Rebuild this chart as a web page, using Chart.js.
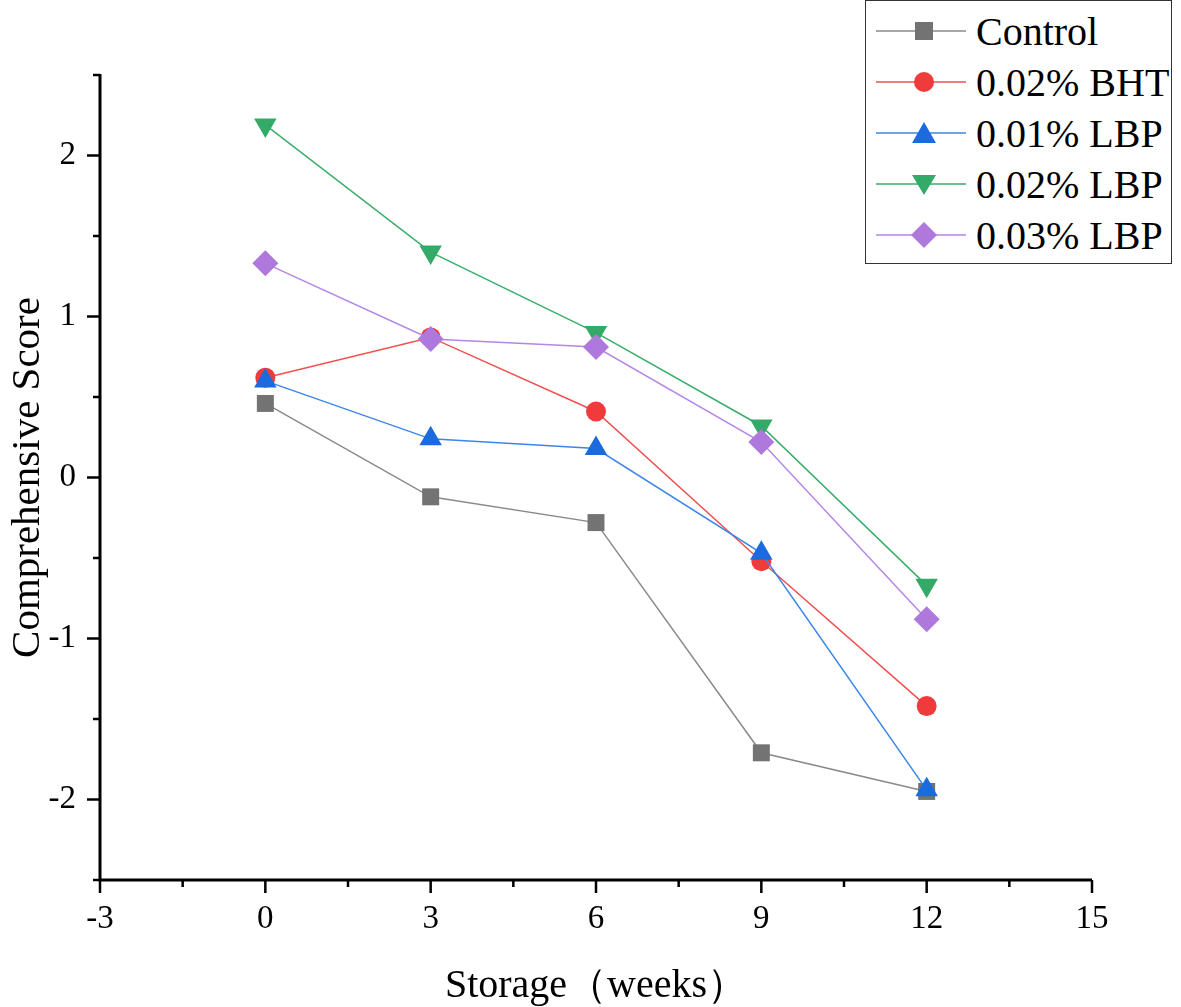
<!DOCTYPE html>
<html>
<head>
<meta charset="utf-8">
<script src="https://cdn.jsdelivr.net/npm/chart.js@4.4.1/dist/chart.umd.min.js"></script>
<style>
    html, body { margin: 0; padding: 0; background: #fff; }
    #wrap { position: relative; width: 1181px; height: 1007px; }
    #legend {
        position: absolute; left: 865px; top: 0px; width: 307px; height: 264px;
        border: 1.5px solid #333; box-sizing: border-box; background: #fff;
        font-family: "Liberation Serif", "Times New Roman", serif; font-size: 40px; color: #000;
    }
    #legend .row { position: absolute; left: 0; height: 50px; width: 100%; }
    #legend svg { position: absolute; left: 8px; top: 0; }
    #legend span { position: absolute; left: 110px; top: 1px; line-height: 44px; }
</style>
</head>
<body>
<div id="wrap">
    <canvas id="scoreChart" width="1181" height="1007"></canvas>
    <div id="legend"></div>
</div>
<script>
const weeks = [0, 3, 6, 9, 12];
const seriesNames = ['Control', '0.02% BHT', '0.01% LBP', '0.02% LBP', '0.03% LBP'];
const control = [0.46, -0.12, -0.28, -1.71, -1.95];
const bht = [0.62, 0.87, 0.41, -0.52, -1.42];
const lbp01 = [0.60, 0.24, 0.18, -0.47, -1.94];
const lbp02 = [2.19, 1.40, 0.90, 0.32, -0.67];
const lbp03 = [1.33, 0.86, 0.81, 0.22, -0.88];
const xTicks = [-3, 0, 3, 6, 9, 12, 15];
const yTicks = [-2, -1, 0, 1, 2];

const styles = [
    { line: '#8a8a8a', fill: '#737373', shape: 'rect', radius: 12, rot: 0 },
    { line: '#f05050', fill: '#ef3b3b', shape: 'circle', radius: 10, rot: 0 },
    { line: '#3a86ea', fill: '#1a6be0', shape: 'triangle', radius: 13, rot: 0 },
    { line: '#3aae6a', fill: '#34aa68', shape: 'triangle', radius: 13, rot: 180 },
    { line: '#b585e8', fill: '#ae78dc', shape: 'rectRot', radius: 13, rot: 0 }
];
const allData = [control, bht, lbp01, lbp02, lbp03];
const serif = '"Liberation Serif", "Times New Roman", serif';

// outward ticks, long on labelled values, short in between
const tickPlugin = {
    id: 'tickPlugin',
    afterDraw(chart) {
        const ctx = chart.ctx;
        const xs = chart.scales.x, ys = chart.scales.y;
        const area = chart.chartArea;
        ctx.save();
        ctx.strokeStyle = '#000';
        ctx.lineWidth = 3;
        ctx.beginPath();
        ctx.moveTo(area.left, area.top - 1);
        ctx.lineTo(area.left, area.bottom);
        ctx.lineTo(area.right, area.bottom);
        ctx.stroke();
        ctx.lineWidth = 2.5;
        for (let v = -3; v <= 15; v += 1.5) {
            const px = xs.getPixelForValue(v);
            const len = xTicks.includes(v) ? 13 : 7;
            ctx.beginPath();
            ctx.moveTo(px, area.bottom);
            ctx.lineTo(px, area.bottom + len);
            ctx.stroke();
        }
        for (let v = -2.5; v <= 2.5; v += 0.5) {
            const py = ys.getPixelForValue(v);
            const len = yTicks.includes(v) ? 13 : 7;
            ctx.beginPath();
            ctx.moveTo(area.left, py);
            ctx.lineTo(area.left - len, py);
            ctx.stroke();
        }
        ctx.restore();
    }
};

new Chart(document.getElementById('scoreChart'), {
    type: 'line',
    data: {
        datasets: allData.map((d, i) => ({
            label: seriesNames[i],
            data: weeks.map((w, j) => ({ x: w, y: d[j] })),
            borderColor: styles[i].line,
            borderWidth: 1.5,
            backgroundColor: styles[i].fill,
            pointBackgroundColor: styles[i].fill,
            pointBorderColor: styles[i].fill,
            pointBorderWidth: 0,
            pointStyle: styles[i].shape,
            pointRadius: styles[i].radius,
            pointRotation: styles[i].rot,
            tension: 0,
            order: 5 - i
        }))
    },
    options: {
        responsive: false,
        animation: false,
        layout: { padding: { top: 75, right: 89, left: 0, bottom: 0 } },
        plugins: { legend: { display: false }, tooltip: { enabled: false } },
        scales: {
            x: {
                type: 'linear',
                min: -3, max: 15,
                afterBuildTicks: s => { s.ticks = xTicks.map(v => ({ value: v })); },
                afterFit: s => { s.height = 127; },
                grid: { display: false, drawTicks: false },
                border: { display: false },
                ticks: { color: '#000', padding: 20, font: { family: serif, size: 33 } },
                title: { display: true, text: 'Storage（weeks）', color: '#000', padding: { top: 24, bottom: -3 }, font: { family: serif, size: 40 } }
            },
            y: {
                min: -2.5, max: 2.5,
                afterBuildTicks: s => { s.ticks = yTicks.map(v => ({ value: v })); },
                afterFit: s => { s.width = 100; },
                grid: { display: false, drawTicks: false },
                border: { display: false },
                ticks: { color: '#000', padding: 24, font: { family: serif, size: 33 } },
                title: { display: true, text: 'Comprehensive Score', color: '#000', padding: { bottom: 2 }, font: { family: serif, size: 41 } }
            }
        }
    },
    plugins: [tickPlugin]
});

// legend box with a line and marker per series
const legend = document.getElementById('legend');
function markerSvg(st) {
    const c = 'fill="' + st.fill + '"';
    if (st.shape === 'rect') return '<rect x="41" y="13" width="18" height="18" ' + c + '/>';
    if (st.shape === 'circle') return '<circle cx="50" cy="22" r="10" ' + c + '/>';
    if (st.shape === 'rectRot') return '<polygon points="50,9 63,22 50,35 37,22" ' + c + '/>';
    if (st.rot === 180) return '<polygon points="38,13 62,13 50,33" ' + c + '/>';
    return '<polygon points="50,11 62,32 38,32" ' + c + '/>';
}
seriesNames.forEach((name, i) => {
    const row = document.createElement('div');
    row.className = 'row';
    row.style.top = (8 + i * 51) + 'px';
    row.innerHTML = '<svg width="100" height="44"><line x1="2" y1="22" x2="92" y2="22" stroke="' + styles[i].line + '" stroke-width="1.5"/>' +
        markerSvg(styles[i]) + '</svg><span>' + name + '</span>';
    legend.appendChild(row);
});
</script>
</body>
</html>
